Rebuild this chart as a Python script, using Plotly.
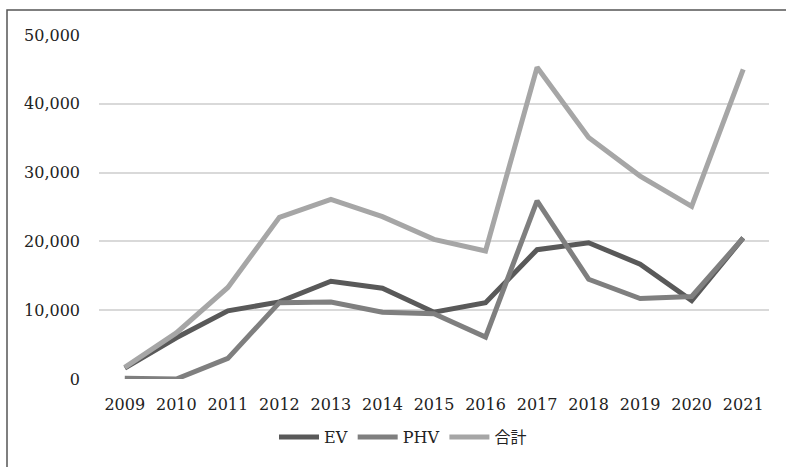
import plotly.graph_objects as go

years = ["2009", "2010", "2011", "2012", "2013", "2014", "2015",
         "2016", "2017", "2018", "2019", "2020", "2021"]
ev = [1600, 6000, 9900, 11200, 14200, 13200, 9700, 11100, 18800, 19800, 16700, 11400, 20500]
phv = [100, 0, 3000, 11100, 11200, 9700, 9500, 6100, 25900, 14500, 11700, 12000, 20500]
total = [1700, 6700, 13300, 23500, 26100, 23600, 20300, 18600, 45300, 35100, 29500, 25100, 45000]

series_names = ["EV", "PHV", "合計"]
series_colors = ["#595959", "#7f7f7f", "#a6a6a6"]

fig = go.Figure()
for name, vals, col in zip(series_names, [ev, phv, total], series_colors):
    fig.add_trace(go.Scatter(x=years, y=vals, name=name, mode="lines",
                             line=dict(color=col, width=5)))

font_family = "DejaVu Serif, Liberation Serif, Noto Sans CJK JP, serif"

W, H = 786, 467
ml, mr, mt, mb = 99, 17, 35, 88
pw = W - ml - mr
ph = H - mt - mb

fig.update_layout(
    width=W, height=H,
    margin=dict(l=ml, r=mr, t=mt, b=mb),
    paper_bgcolor="white", plot_bgcolor="white",
    font=dict(family=font_family, size=16, color="#222222"),
    xaxis=dict(type="category", range=[-0.5, len(years) - 0.5],
               showgrid=False, showline=False, zeroline=False,
               ticks="", ticklabelstandoff=14,
               tickfont=dict(size=16)),
    yaxis=dict(range=[0, 50000], tickvals=[0, 10000, 20000, 30000, 40000, 50000],
               tickformat=",d", showgrid=True, gridcolor="#d9d9d9", gridwidth=2,
               zeroline=False, showline=False, ticks="", ticklabelstandoff=18,
               tickfont=dict(size=16)),
    legend=dict(orientation="h", x=(403 - ml) / pw, xanchor="center",
                y=(mt + ph - 437) / ph, yanchor="middle",
                font=dict(size=16), itemwidth=40, traceorder="normal"),
    showlegend=True,
)

# frame (left and top edges visible; the rest lies beyond the image)
x_left = (7 - ml) / pw
x_right = (W + 30 - ml) / pw
y_top = (mt + ph - 10) / ph
y_bot = (mt + ph - (H + 30)) / ph
fig.add_shape(type="rect", xref="paper", yref="paper", x0=x_left, x1=x_right,
              y0=y_bot, y1=y_top, line=dict(color="#555555", width=1.5),
              fillcolor="rgba(0,0,0,0)", layer="below")

fig.write_html("out.html", config={"displayModeBar": False},
               post_script="document.body.style.margin='0';document.body.style.overflow='hidden';")
